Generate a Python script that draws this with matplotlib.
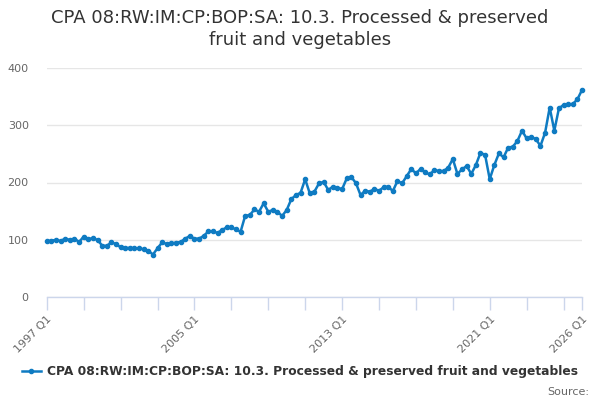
import matplotlib
matplotlib.use("Agg")
import matplotlib.pyplot as plt
import numpy as np

# quarterly values, 1997 Q1 .. 2026 Q1
values = [
    97.3, 98.5, 99.7, 97.9, 101.9, 99.7, 101.9, 96.1,
    105.5, 101.4, 102.6, 99.7, 89.8, 89.2, 95.5, 92.6,
    86.8, 85.7, 85.7, 85.1, 85.1, 83.3, 81.0, 74.2,
    85.1, 95.5, 92.6, 93.7, 94.9, 96.1, 101.9, 106.6,
    101.9, 102.0, 106.6, 114.5, 114.5, 112.0, 117.0, 121.7,
    121.7, 118.0, 114.0, 142.0, 143.0, 153.0, 149.0, 163.6,
    149.0, 152.0, 149.0, 141.5, 152.0, 171.0, 178.0, 182.0,
    205.6, 181.0, 184.0, 198.5, 201.0, 187.0, 192.7, 191.0,
    188.3, 207.0, 209.5, 199.0, 178.0, 185.7, 184.0, 188.6,
    185.7, 191.6, 192.7, 185.0, 202.6, 198.5, 211.0, 223.6,
    216.0, 223.6, 217.8, 214.0, 221.8, 220.0, 220.0, 225.9,
    241.0, 215.0, 223.0, 228.8, 215.0, 230.6, 252.0, 248.0,
    205.8, 230.6, 251.0, 244.0, 261.0, 262.5, 272.5, 290.5,
    277.0, 280.0, 275.5, 264.0, 287.0, 331.0, 290.5, 329.6,
    335.4, 336.6, 337.0, 345.3, 361.6,
]
first_year = 1997
label_idx = [0, 32, 64, 96, 116]
title = "CPA 08:RW:IM:CP:BOP:SA: 10.3. Processed & preserved\nfruit and vegetables"
series_name = "CPA 08:RW:IM:CP:BOP:SA: 10.3. Processed & preserved fruit and vegetables"

n = len(values)
x = np.arange(n)
quarters = ["%d Q%d" % (first_year + i // 4, i % 4 + 1) for i in range(n)]

fig = plt.figure(figsize=(6, 4), dpi=100)
ax = fig.add_axes([0.078, 0.2575, 0.892, 0.5725])

blue = "#0f7bc2"
ax.plot(x, values, color=blue, lw=1.8, marker="o", ms=3,
        clip_on=False, zorder=3, label=series_name)

ax.set_xlim(0, n - 1)
ax.set_ylim(0, 400)
ax.set_yticks([0, 100, 200, 300, 400])
ax.yaxis.grid(True, color="#e6e6e6", lw=1)
ax.set_axisbelow(True)
for s in ["top", "right", "left"]:
    ax.spines[s].set_visible(False)
ax.spines["bottom"].set_color("#ccd6eb")
ax.spines["bottom"].set_linewidth(1)

ticks = list(range(0, n, 8)) + [n - 1]
ax.set_xticks(ticks)
ax.set_xticklabels([quarters[t] if t in label_idx else "" for t in ticks],
                   rotation=45, ha="right", rotation_mode="anchor")
ax.tick_params(axis="x", colors="#ccd6eb", length=9, width=1, labelcolor="#666666",
               labelsize=8, pad=3)
ax.tick_params(axis="y", length=0, labelcolor="#666666", labelsize=8, pad=13)

fig.text(0.5, 0.978, title, ha="center", va="top", fontsize=13,
         color="#333333", linespacing=1.3)

leg = fig.legend(loc="center", bbox_to_anchor=(0.5, 0.07), frameon=False,
                 prop={"weight": "bold", "size": 8.8}, handlelength=1.6,
                 handletextpad=0.5)
for t in leg.get_texts():
    t.set_color("#333333")

fig.text(0.982, 0.008, "Source:", ha="right", va="bottom", fontsize=8, color="#666666")

fig.savefig("out.png", dpi=100)
